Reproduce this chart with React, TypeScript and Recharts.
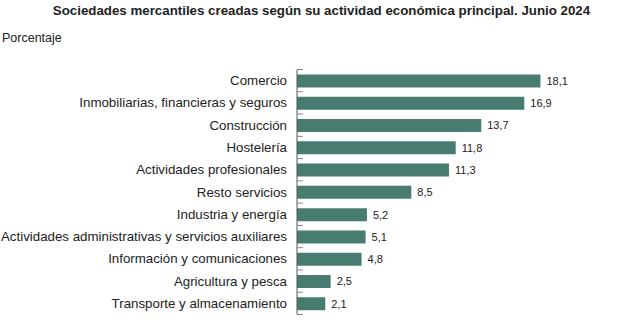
import React from 'react';
import { BarChart, Bar, XAxis, YAxis, LabelList } from 'recharts';

const categories = [
  'Comercio',
  'Inmobiliarias, financieras y seguros',
  'Construcción',
  'Hostelería',
  'Actividades profesionales',
  'Resto servicios',
  'Industria y energía',
  'Actividades administrativas y servicios auxiliares',
  'Información y comunicaciones',
  'Agricultura y pesca',
  'Transporte y almacenamiento',
];
const values = [18.1, 16.9, 13.7, 11.8, 11.3, 8.5, 5.2, 5.1, 4.8, 2.5, 2.1];

const data = categories.map((name, i) => ({ name, value: values[i] }));

const W = 643;
const H = 324;
const MARGIN = { top: 69.5, right: 77, bottom: 9.5, left: 0 };
const Y_AXIS_W = 297;
const BAR_COLOR = '#487c70';
const FONT = '"Liberation Sans", Arial, sans-serif';

const plotH = H - MARGIN.top - MARGIN.bottom;
const band = plotH / categories.length;

const CategoryTick = (props: any) => {
  const { y, payload, index } = props;
  const axisX = Y_AXIS_W + MARGIN.left;
  return (
    <g>
      <text x={axisX - 10} y={y} dy={4.5} textAnchor="end" fontSize={13.3} fill="#222" fontFamily={FONT}>
        {payload.value}
      </text>
      <line x1={axisX} x2={axisX + 6} y1={y - band / 2} y2={y - band / 2} stroke="#888" />
      {index === categories.length - 1 && (
        <line x1={axisX} x2={axisX + 6} y1={y + band / 2} y2={y + band / 2} stroke="#888" />
      )}
    </g>
  );
};

export default function App() {
  return (
    <div style={{ position: 'absolute', left: 0, top: 0, width: W, height: H, background: '#fff', fontFamily: FONT }}>
      <div style={{ position: 'absolute', left: 0, top: 3, width: W, textAlign: 'center', fontWeight: 'bold', fontSize: 13.3, color: '#222' }}>
        Sociedades mercantiles creadas según su actividad económica principal. Junio 2024
      </div>
      <div style={{ position: 'absolute', left: 2, top: 31, fontSize: 12.5, color: '#222' }}>Porcentaje</div>
      <div style={{ position: 'absolute', left: 0, top: 0 }}>
        <BarChart width={W} height={H} data={data} layout="vertical" margin={MARGIN}>
          <XAxis type="number" domain={[0, 20]} hide />
          <YAxis
            type="category"
            dataKey="name"
            width={Y_AXIS_W}
            axisLine={{ stroke: '#555' }}
            tickLine={false}
            tick={<CategoryTick />}
            interval={0}
          />
          <Bar dataKey="value" fill={BAR_COLOR} barSize={13} isAnimationActive={false}>
            <LabelList
              dataKey="value"
              position="right"
              offset={6}
              fontSize={11}
              fill="#222"
              fontFamily={FONT}
              formatter={(v: any) => String(v).replace('.', ',')}
            />
          </Bar>
        </BarChart>
      </div>
    </div>
  );
}
